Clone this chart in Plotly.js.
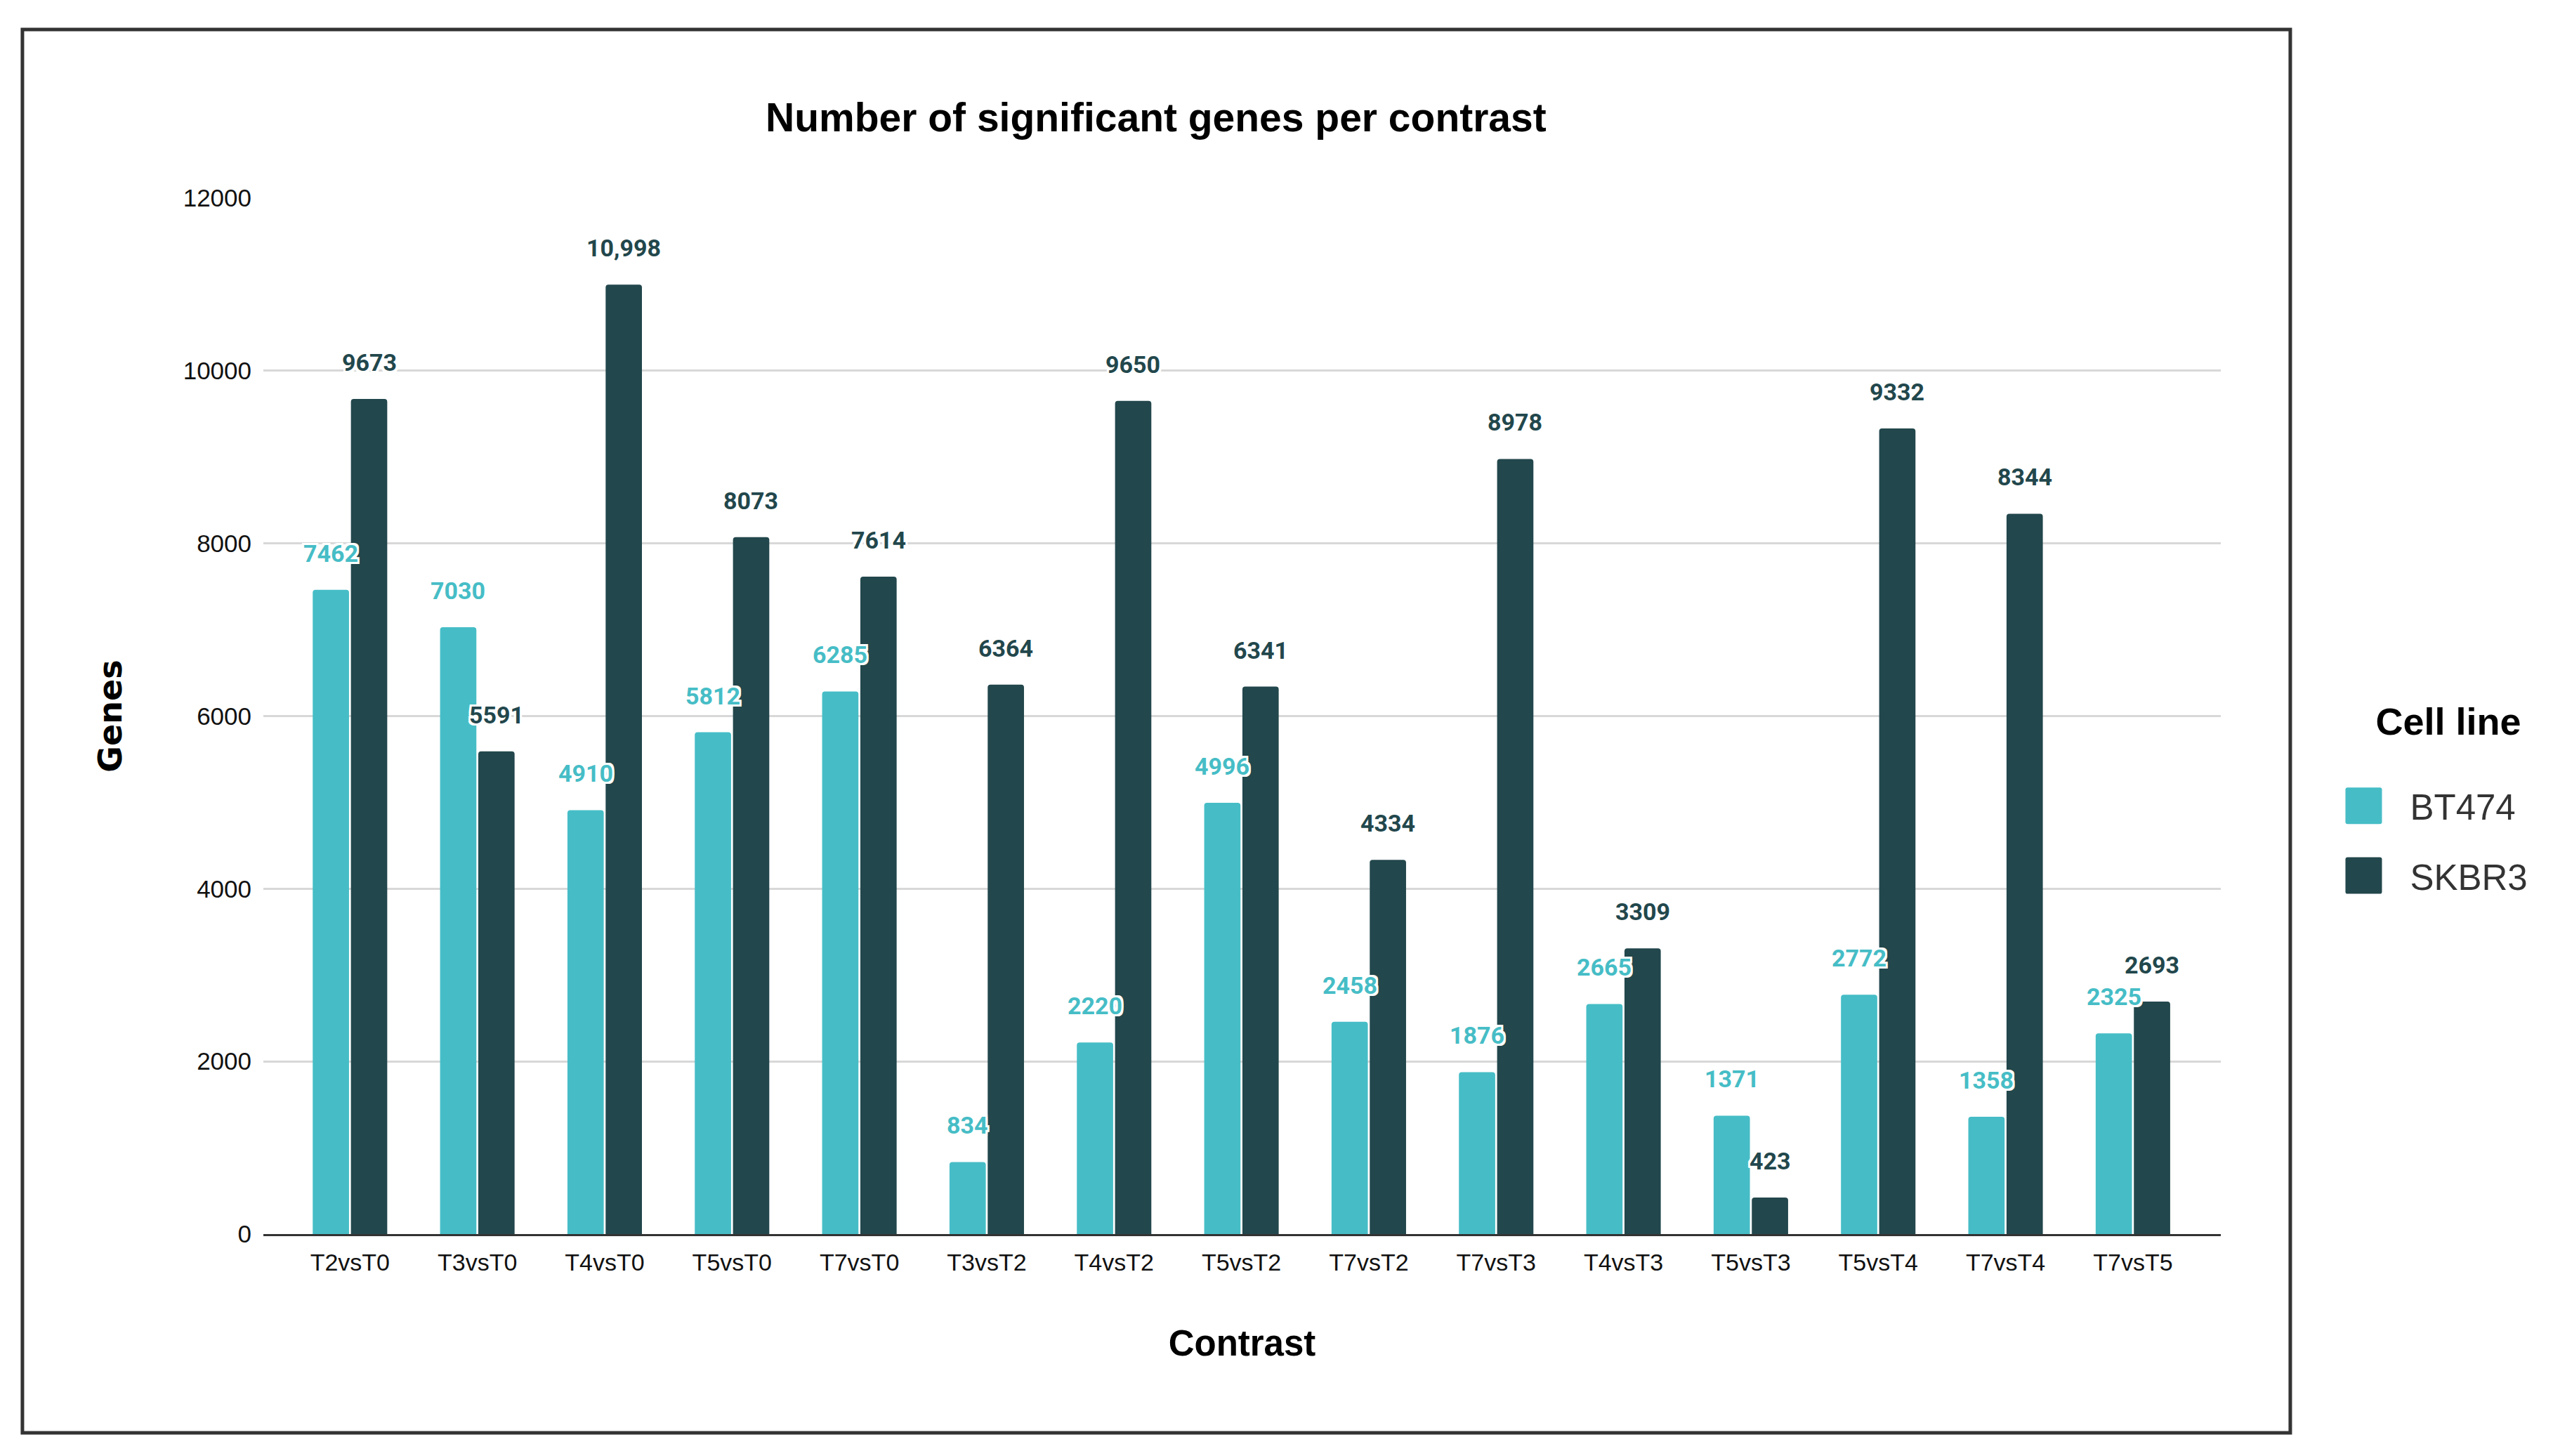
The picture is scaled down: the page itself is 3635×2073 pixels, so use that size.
<!DOCTYPE html>
<html>
<head>
<meta charset="utf-8">
<script src="https://cdn.plot.ly/plotly-3.0.1.min.js"></script>
<style>
  html, body { margin: 0; padding: 0; background: #fff; }
  #chart { width: 3635px; height: 2073px; }
</style>
</head>
<body>
<div id="chart"></div>
<script>
// ---- data ----
const categories = ['T2vsT0','T3vsT0','T4vsT0','T5vsT0','T7vsT0','T3vsT2','T4vsT2','T5vsT2','T7vsT2','T7vsT3','T4vsT3','T5vsT3','T5vsT4','T7vsT4','T7vsT5'];
const bt474 = [7462, 7030, 4910, 5812, 6285, 834, 2220, 4996, 2458, 1876, 2665, 1371, 2772, 1358, 2325];
const skbr3 = [9673, 5591, 10998, 8073, 7614, 6364, 9650, 6341, 4334, 8978, 3309, 423, 9332, 8344, 2693];
const seriesNames = ['BT474', 'SKBR3'];
const yTicks = [0, 2000, 4000, 6000, 8000, 10000, 12000];

// ---- style ----
const COLORS = ['#46BDC6', '#22474C'];
const SANS = 'Liberation Sans, Arial, sans-serif';
const BARGAP = 0.4;
const HALO = ['-3px -3px 0 #fff','3px -3px 0 #fff','-3px 3px 0 #fff','3px 3px 0 #fff',
              '0 -3px 0 #fff','0 3px 0 #fff','-3px 0 0 #fff','3px 0 0 #fff'].join(', ');

function fmt(v) { return v >= 10000 ? v.toLocaleString('en-US') : String(v); }

const series = [bt474, skbr3];
const traces = series.map((vals, k) => ({
  type: 'bar',
  name: seriesNames[k],
  x: categories,
  y: vals,
  legendgroup: 'g' + k,
  marker: { color: COLORS[k], cornerradius: 4, line: { width: 0 } },
  hoverinfo: 'x+y+name'
}));

// data labels: placed above each bar using the category index scale
const slotOffset = (1 - BARGAP) / 4;
const annotations = [];
series.forEach((vals, k) => {
  vals.forEach((v, i) => {
    annotations.push({
      xref: 'x', yref: 'y',
      x: i + (k === 0 ? -slotOffset : slotOffset),
      y: v,
      text: fmt(v),
      showarrow: false,
      xanchor: 'center', yanchor: 'middle',
      yshift: 52,
      font: { family: 'Roboto, ' + SANS, size: 34, weight: 700, color: COLORS[k], shadow: HALO }
    });
  });
});

const layout = {
  width: 3635, height: 2073,
  paper_bgcolor: '#ffffff', plot_bgcolor: '#ffffff',
  margin: { l: 375, r: 473, t: 282, b: 316, autoexpand: false },
  barmode: 'group',
  bargap: BARGAP,
  bargroupgap: 0.05,
  title: {
    text: 'Number of significant genes per contrast',
    font: { family: SANS, size: 57, weight: 700, color: '#000' },
    xref: 'container', x: 0.4528, xanchor: 'center',
    yref: 'container', y: 0.9194, yanchor: 'middle'
  },
  xaxis: {
    type: 'category',
    range: [-0.68, 14.69],
    showline: true, linecolor: '#333', linewidth: 3,
    showgrid: false, zeroline: false, ticks: '',
    tickfont: { family: SANS, size: 34, color: '#111' },
    ticklabelstandoff: 8,
    title: { text: 'Contrast', font: { family: SANS, size: 51, weight: 700, color: '#000' }, standoff: 80 }
  },
  yaxis: {
    range: [0, 12000],
    tickvals: yTicks,
    tickformat: 'd',
    showgrid: true, gridcolor: '#d8d8d8', gridwidth: 3,
    zeroline: false, showline: false, ticks: '',
    tickfont: { family: SANS, size: 35, color: '#111' },
    ticklabelstandoff: 16,
    title: { text: 'Genes', font: { family: 'DejaVu Sans, Verdana, sans-serif', size: 46, weight: 700, color: '#000' }, standoff: 72 }
  },
  showlegend: true,
  legend: {
    xref: 'container', x: 0.9165, xanchor: 'left',
    yref: 'container', y: 0.5334, yanchor: 'top',
    traceorder: 'grouped',
    tracegroupgap: 30,
    itemwidth: 90,
    font: { family: SANS, size: 51, color: '#333' },
    title: { text: 'Cell line<br> ', side: 'top center', font: { family: SANS, size: 54, weight: 700, color: '#000' } },
    bgcolor: 'rgba(0,0,0,0)'
  },
  annotations: annotations,
  shapes: [{
    type: 'rect', xref: 'paper', yref: 'paper', layer: 'below',
    x0: -0.1231, x1: 1.0355, y0: -0.1919, y1: 1.1627,
    line: { color: '#333', width: 5 }, fillcolor: 'rgba(0,0,0,0)'
  }]
};

Plotly.newPlot('chart', traces, layout, { staticPlot: true, displayModeBar: false }).then(function (gd) {
  // enlarge legend swatches to match the reference's big square keys
  gd.querySelectorAll('.legend .legendpoints path').forEach(function (p) {
    p.setAttribute('d', 'M10,23Q10,26 7,26H-39Q-42,26 -42,23V-23Q-42,-26 -39,-26H7Q10,-26 10,-23Z');
  });
  var t = gd.querySelector('.legend .legendtitletext');
  if (t) t.setAttribute('transform', 'translate(18,9)');
});
</script>
</body>
</html>
